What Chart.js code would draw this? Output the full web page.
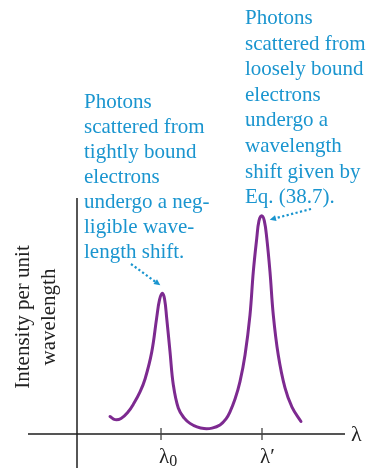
<!DOCTYPE html>
<html>
<head>
<meta charset="utf-8">
<script src="https://cdn.jsdelivr.net/npm/chart.js@4"></script>
<style>
  html, body { margin: 0; padding: 0; background: #ffffff; }
  #wrap { width: 369px; height: 468px; }
</style>
</head>
<body>
<div id="wrap"><canvas id="c" width="369" height="468"></canvas></div>
<script>
// Wavelength axis: lambda0 = 1, lambda' = 2 (arbitrary units)
const wavelength = [0.495, 0.545, 0.604, 0.673, 0.733, 0.792, 0.842, 0.908, 0.957, 0.985,
  1.013, 1.035, 1.056, 1.089, 1.122, 1.171, 1.228, 1.287, 1.356, 1.426,
  1.505, 1.584, 1.644, 1.683, 1.733, 1.782, 1.832, 1.881, 1.914, 1.948,
  1.970, 1.997, 2.023, 2.047, 2.079, 2.112, 2.161, 2.228, 2.297, 2.386];
// Intensity per unit wavelength (arbitrary units)
const intensity = [7.4, 6.1, 6.6, 9.3, 13.1, 17.8, 23.3, 34.7, 49.2, 56.8,
  59.6, 57.2, 49.2, 34.9, 20.8, 11.0, 6.8, 4.5, 3.0, 2.3,
  2.5, 3.8, 6.4, 9.4, 14.8, 22.2, 33.5, 50.4, 68.8, 82.9,
  90.3, 92.5, 90.3, 83.1, 68.8, 50.4, 33.5, 19.5, 11.4, 5.3];

const tickValues = [1, 2];
const tickMain = ['λ', 'λ'];
const tickSub = ['0', ''];
const tickSuffix = ['', '′'];
const xAxisTitle = 'λ';
const yAxisTitle = ['Intensity per unit', 'wavelength'];

const noteTight = ['Photons', 'scattered from', 'tightly bound', 'electrons',
  'undergo a neg-', 'ligible wave-', 'length shift.'];
const noteLoose = ['Photons', 'scattered from', 'loosely bound', 'electrons',
  'undergo a', 'wavelength', 'shift given by', 'Eq. (38.7).'];

const SERIF = '"Liberation Serif", "DejaVu Serif", "Times New Roman", serif';
const NOTE_COLOR = '#1a95cf';
const CURVE_COLOR = '#7d2a90';

function peakIndex(lo, hi) {
  let best = -1;
  for (let i = 0; i < wavelength.length; i++) {
    if (wavelength[i] < lo || wavelength[i] > hi) continue;
    if (best < 0 || intensity[i] > intensity[best]) best = i;
  }
  return best;
}

function dottedArrow(ctx, x0, y0, x1, y1) {
  ctx.save();
  ctx.strokeStyle = NOTE_COLOR;
  ctx.fillStyle = NOTE_COLOR;
  ctx.lineWidth = 2.2;
  ctx.setLineDash([2.2, 2.4]);
  const ang = Math.atan2(y1 - y0, x1 - x0);
  const head = 7;
  ctx.beginPath();
  ctx.moveTo(x0, y0);
  ctx.lineTo(x1 - Math.cos(ang) * head * 0.8, y1 - Math.sin(ang) * head * 0.8);
  ctx.stroke();
  ctx.setLineDash([]);
  ctx.beginPath();
  ctx.moveTo(x1, y1);
  ctx.lineTo(x1 - Math.cos(ang - 0.45) * head, y1 - Math.sin(ang - 0.45) * head);
  ctx.lineTo(x1 - Math.cos(ang + 0.45) * head, y1 - Math.sin(ang + 0.45) * head);
  ctx.closePath();
  ctx.fill();
  ctx.restore();
}

const axesAndNotes = {
  id: 'axesAndNotes',
  beforeDatasetsDraw(chart) {
    const ctx = chart.ctx;
    const area = chart.chartArea;
    const xs = chart.scales.x, ys = chart.scales.y;
    const y0 = ys.getPixelForValue(0);
    ctx.save();
    // horizontal axis, extending a little left of the vertical one
    ctx.strokeStyle = '#555555';
    ctx.lineWidth = 1.8;
    ctx.beginPath();
    ctx.moveTo(area.left - 49, y0);
    ctx.lineTo(area.right, y0);
    ctx.stroke();
    // vertical axis, crossing below the horizontal one
    ctx.strokeStyle = '#1e1e1e';
    ctx.lineWidth = 1.5;
    ctx.beginPath();
    ctx.moveTo(area.left, area.top);
    ctx.lineTo(area.left, chart.height);
    ctx.stroke();
    // tick marks
    ctx.strokeStyle = '#444444';
    ctx.lineWidth = 1.3;
    tickValues.forEach(v => {
      const px = xs.getPixelForValue(v);
      ctx.beginPath();
      ctx.moveTo(px, y0 - 6);
      ctx.lineTo(px, y0 + 6);
      ctx.stroke();
    });
    ctx.restore();
  },
  afterDraw(chart) {
    const ctx = chart.ctx;
    const area = chart.chartArea;
    const xs = chart.scales.x, ys = chart.scales.y;
    const y0 = ys.getPixelForValue(0);
    ctx.save();
    ctx.fillStyle = '#222222';
    ctx.textBaseline = 'alphabetic';
    // tick labels
    tickValues.forEach((v, i) => {
      const px = xs.getPixelForValue(v) - 2;
      ctx.font = '21px ' + SERIF;
      ctx.textAlign = 'left';
      ctx.fillText(tickMain[i] + tickSuffix[i], px, y0 + 29);
      if (tickSub[i]) {
        const w = ctx.measureText(tickMain[i]).width;
        ctx.font = '16px ' + SERIF;
        ctx.fillText(tickSub[i], px + w, y0 + 32);
      }
    });
    // axis titles
    ctx.font = '22px ' + SERIF;
    ctx.textAlign = 'left';
    ctx.fillText(xAxisTitle, area.right + 6, y0 + 7);
    ctx.save();
    ctx.translate(0, (area.top + y0) / 2 + 1);
    ctx.rotate(-Math.PI / 2);
    ctx.textAlign = 'center';
    ctx.font = '21px ' + SERIF;
    ctx.fillText(yAxisTitle[0], 0, 29);
    ctx.fillText(yAxisTitle[1], 0, 55);
    ctx.restore();

    // annotations
    ctx.fillStyle = NOTE_COLOR;
    ctx.font = '21px ' + SERIF;
    ctx.textAlign = 'left';
    noteTight.forEach((t, i) => ctx.fillText(t, 84, 108 + i * 25));
    noteLoose.forEach((t, i) => ctx.fillText(t, 245, 24 + i * 25.6));

    const p1 = peakIndex(0, 1.5), p2 = peakIndex(1.5, 3);
    const a1x = xs.getPixelForValue(wavelength[p1]), a1y = ys.getPixelForValue(intensity[p1]);
    const a2x = xs.getPixelForValue(wavelength[p2]), a2y = ys.getPixelForValue(intensity[p2]);
    dottedArrow(ctx, 131, 264, a1x - 2, a1y - 8);
    dottedArrow(ctx, 311, 209, a2x + 8, a2y + 4);
    ctx.restore();
  }
};

new Chart(document.getElementById('c'), {
  type: 'line',
  data: {
    datasets: [{
      data: wavelength.map((x, i) => ({ x: x, y: intensity[i] })),
      borderColor: CURVE_COLOR,
      borderWidth: 3,
      pointRadius: 0,
      fill: false,
      tension: 0.4,
      borderCapStyle: 'round',
      borderJoinStyle: 'round'
    }]
  },
  options: {
    responsive: false,
    animation: false,
    layout: { padding: { left: 77, right: 24, top: 198, bottom: 34 } },
    plugins: { legend: { display: false }, tooltip: { enabled: false } },
    scales: {
      x: { type: 'linear', min: 0.168, max: 2.822, display: false },
      y: { type: 'linear', min: 0, max: 100, display: false }
    }
  },
  plugins: [axesAndNotes]
});
</script>
</body>
</html>
